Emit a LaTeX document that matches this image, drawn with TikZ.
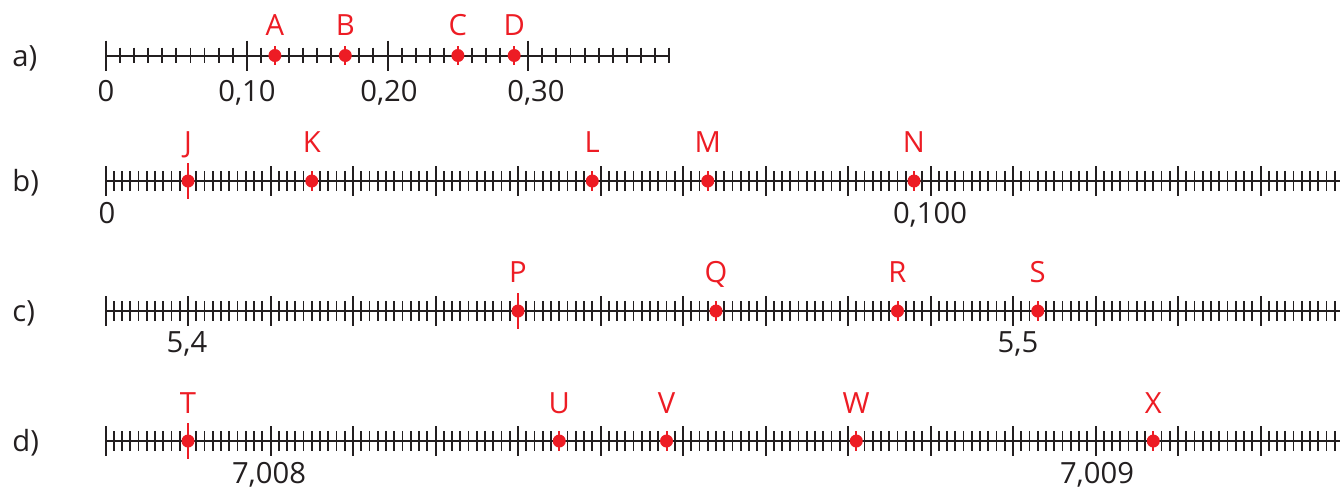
\documentclass[tikz,border=0pt]{standalone}
\usepackage{fontspec}
\setmainfont{Open Sans}
\definecolor{pr}{RGB}{237,28,36}
\definecolor{ink}{RGB}{35,31,32}
\begin{document}
\begin{tikzpicture}[x=0.5pt,y=-0.5pt,
  axis/.style={ink,line width=1pt},
  minortick/.style={ink,line width=0.95pt},
  majortick/.style={ink,line width=1pt},
  redtick/.style={pr,line width=1pt},
  dot/.style={circle,fill=pr,inner sep=0pt,minimum size=6.5pt},
  txt/.style={font=\fontsize{14.6}{16}\selectfont,inner sep=0pt},
  ptlabel/.style={txt,text=pr,anchor=base},
  numlabel/.style={txt,text=ink,anchor=base},
  rowlabel/.style={txt,text=ink,anchor=base west}]
\useasboundingbox (0,0) rectangle (1340,488);

% ---------- row a ----------
\def\ya{55.5}
\draw[axis] (106,\ya) -- (669,\ya);
\foreach \i in {0,...,40}{
  \pgfmathsetmacro\xx{106+14.075*\i}
  \draw[minortick] (\xx,\ya-7.8) -- (\xx,\ya+7.8);}
\foreach \i in {0,10,20,30}{
  \pgfmathsetmacro\xx{106+14.075*\i}
  \draw[majortick] (\xx,\ya-15) -- (\xx,\ya+15);}
\node[rowlabel] (ra) at (12,66) {a)};
\node[numlabel] (a0) at (106,101) {0};
\node[numlabel] (a10) at (247,101) {0,10};
\node[numlabel] (a20) at (389,101) {0,20};
\node[numlabel] (a30) at (536,101) {0,30};
\foreach \n/\p in {A/12,B/17,C/25,D/29}{
  \pgfmathsetmacro\xx{106+14.075*\p}
  \draw[redtick] (\xx,\ya-9.5) -- (\xx,\ya+9.5);
  \node[dot] (\n) at (\xx,\ya) {};
  \node[ptlabel] (l\n) at (\xx,35) {\n};}

% ---------- rows b, c, d ----------
\foreach \yy/\r in {181/b,311/c,441/d}{
  \draw[axis] (105.5,\yy) -- (1340,\yy);
  \foreach \i in {0,...,149}{
    \pgfmathsetmacro\xx{105.5+8.25*\i}
    \draw[minortick] (\xx,\yy-10) -- (\xx,\yy+10);}
  \foreach \i in {0,10,...,140}{
    \pgfmathsetmacro\xx{105.5+8.25*\i}
    \draw[majortick] (\xx,\yy-15) -- (\xx,\yy+15);}
  \node[rowlabel] (r\r) at (12,\yy+10) {\r)};
}

\node[numlabel] (b0) at (107,223) {0};
\node[numlabel] (b100) at (930,223) {0,100};
\node[numlabel] (c54) at (187,352) {5,4};
\node[numlabel] (c55) at (1018,352) {5,5};
\node[numlabel] (d8) at (269,483) {7,008};
\node[numlabel] (d9) at (1097,483) {7,009};

% points row b
\foreach \n/\p/\L in {J/10/1,K/25/0,L/59/0,M/73/0,N/98/0}{
  \pgfmathsetmacro\xx{105.5+8.25*\p}
  \ifnum\L=1
    \draw[redtick] (\xx,181-18) -- (\xx,181+18);
  \else
    \draw[redtick] (\xx,181-10) -- (\xx,181+10);
  \fi
  \node[dot] (\n) at (\xx,181) {};
  \node[ptlabel] (l\n) at (\xx,152) {\n};}
% points row c
\foreach \n/\p/\L in {P/50/1,Q/74/0,R/96/0,S/113/0}{
  \pgfmathsetmacro\xx{105.5+8.25*\p}
  \ifnum\L=1
    \draw[redtick] (\xx,311-18) -- (\xx,311+18);
  \else
    \draw[redtick] (\xx,311-10) -- (\xx,311+10);
  \fi
  \node[dot] (\n) at (\xx,311) {};
  \node[ptlabel] (l\n) at (\xx,282) {\n};}
% points row d
\foreach \n/\p/\L in {T/10/1,U/55/0,V/68/0,W/91/0,X/127/0}{
  \pgfmathsetmacro\xx{105.5+8.25*\p}
  \ifnum\L=1
    \draw[redtick] (\xx,441-18) -- (\xx,441+18);
  \else
    \draw[redtick] (\xx,441-10) -- (\xx,441+10);
  \fi
  \node[dot] (\n) at (\xx,441) {};
  \node[ptlabel] (l\n) at (\xx,413) {\n};}
\end{tikzpicture}
\end{document}
